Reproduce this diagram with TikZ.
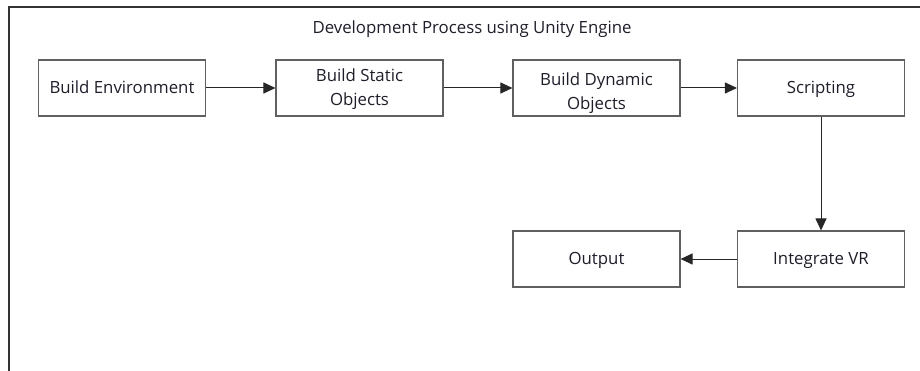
\documentclass[tikz,border=0pt]{standalone}
\usepackage{fontspec}
\setmainfont{Open Sans}
\usetikzlibrary{arrows.meta}
\definecolor{framecol}{HTML}{333333}
\definecolor{boxcol}{HTML}{606060}
\definecolor{inkcol}{HTML}{1E1E2A}
% two-line label; #1 lowers the last line's baseline below the node baseline
\newcommand{\twolines}[3]{\raisebox{-#1}{\begin{tabular}[b]{@{}c@{}}#2\\#3\end{tabular}}}
\tikzset{
  stage/.style={draw=boxcol, line width=1.1pt, rectangle, minimum width=167pt,
    minimum height=56pt, inner sep=0pt, text=inkcol,
    text height=12pt, text depth=0pt,
    font=\fontsize{16.8}{24}\selectfont},
  flow/.style={draw=black!85, line width=1pt, -{Triangle[length=12pt,width=11pt]}}
}
\begin{document}
\begin{tikzpicture}[x=1pt,y=-1pt]
  \useasboundingbox (0,0) rectangle (920,371);
  % open frame around the process (left and top edges only)
  \draw[framecol, line width=1.5pt] (9,371) -- (9,7) -- (920,7);
  \node[text=inkcol, font=\fontsize{16.8}{20}\selectfont,
    text height=12pt, text depth=0pt] (title) at (472,28)
    {Development Process using Unity Engine};

  % process stages
  \node[stage] (env)     at (122,88)   {Build Environment};
  \node[stage] (static)  at (359.5,88) {\twolines{12pt}{Build Static}{Objects}};
  \node[stage] (dynamic) at (596.5,88) {\twolines{16pt}{Build Dynamic}{Objects}};
  \node[stage] (script)  at (821,88)   {Scripting};
  \node[stage] (vr)      at (821,259)  {Integrate VR};
  \node[stage] (out)     at (596.5,259) {Output};

  % connectors
  \draw[flow] (env) -- (static);
  \draw[flow] (static) -- (dynamic);
  \draw[flow] (dynamic) -- (script);
  \draw[flow] (script) -- (vr);
  \draw[flow] (vr) -- (out);
\end{tikzpicture}
\end{document}
